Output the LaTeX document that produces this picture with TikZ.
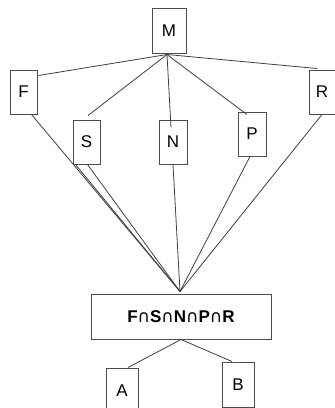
\documentclass[tikz,border=0pt]{standalone}
\usepackage{fontspec}
\setmainfont{Liberation Sans}
\newfontfamily\capfont{DejaVu Sans}
\usetikzlibrary{calc}
\begin{document}
\begin{tikzpicture}[x=1pt,y=-1pt,
  box/.style={draw=black!70,line width=1pt,fill=white,minimum width=27pt,minimum height=44pt,inner sep=0pt,font=\fontsize{17}{20}\selectfont},
  wide/.style={box,minimum width=180pt,minimum height=45pt,font=\bfseries\fontsize{17}{20}\selectfont},
  link/.style={draw=black!75,line width=0.8pt}]
\clip (0,0) rectangle (335,408);
\fill[white] (0,0) rectangle (335,408);
% nodes
\node[box,minimum width=34pt,minimum height=45pt] (M) at (169,30.5) {M};
\node[box] (F) at (23.5,92) {F};
\node[box] (S) at (86.5,142) {S};
\node[box,minimum width=28pt] (N) at (173,142) {N};
\node[box,minimum width=28pt] (P) at (252,134) {P};
\node[box,minimum width=26pt] (R) at (322,92) {R};
\node[wide] (X) at (181,316.5) {F{\mdseries\capfont ∩}S{\mdseries\capfont ∩}N{\mdseries\capfont ∩}P{\mdseries\capfont ∩}R};
\node[box,minimum width=32pt,minimum height=45pt] (A) at (122,390.5) {A};
\node[box,minimum width=32pt,minimum height=45pt] (B) at (238,384.5) {B};
% coordinates
\coordinate (Mb) at ($(M.south)+(-2,1)$);
\coordinate (C) at ($(X.north)+(-1,-2)$);
% links from M
\draw[link] (Mb) -- ($(F.north east)+(1,6)$);
\draw[link] (Mb) -- ($(S.north)+(1.5,-4)$);
\draw[link] (Mb) -- ($(N.north)+(-2,8)$);
\draw[link] (Mb) -- ($(P.north)+(-5,3)$);
\draw[link] (Mb) -- ($(R.north)+(-5,-1)$);
% links to the intersection
\draw[link] ($(F.south)+(8,0)$) -- (C);
\draw[link] ($(S.south west)+(3,0)$) -- (C);
\draw[link] ($(S.south east)+(-13,0)$) -- (C);
\draw[link] (N.south) -- (C);
\draw[link] ($(P.south)+(-2,0)$) -- (C);
\draw[link] (R.south) -- (C);
% links to A and B
\draw[link] (X.south) -- ($(A.north)+(6,0)$);
\draw[link] (X.south) -- ($(B.north)+(-6,0)$);
\end{tikzpicture}
\end{document}
